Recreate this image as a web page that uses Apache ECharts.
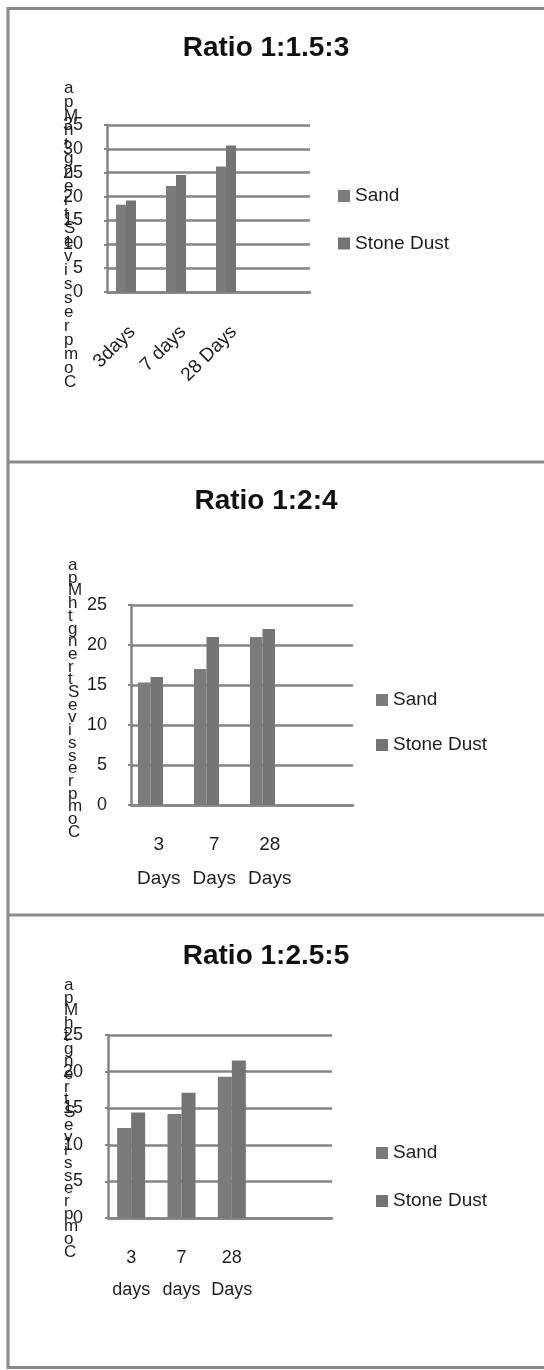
<!DOCTYPE html>
<html><head><meta charset="utf-8">
<script src="https://cdn.jsdelivr.net/npm/echarts@6/dist/echarts.min.js"></script>
<style>html,body{margin:0;padding:0;background:#fff}#c{width:544px;height:1370px}</style>
</head><body><div id="c"></div>
<script>
// ---- data ----
const titles = ['Ratio 1:1.5:3', 'Ratio 1:2:4', 'Ratio 1:2.5:5'];
const seriesNames = ['Sand', 'Stone Dust'];
const axisTitle = 'Compressive Strength Mpa';
const categories1 = ['3days', '7 days', '28 Days'];
const categories2 = ['3\nDays', '7\nDays', '28\nDays'];
const categories3 = ['3\ndays', '7\ndays', '28\nDays'];
const sand1 = [18.3, 22.2, 26.3];
const stoneDust1 = [19.2, 24.5, 30.7];
const sand2 = [15.3, 17.0, 21.0];
const stoneDust2 = [16.0, 21.0, 22.0];
const sand3 = [12.3, 14.2, 19.3];
const stoneDust3 = [14.4, 17.1, 21.5];
const yMax = [35, 25, 25];
const yInterval = 5;

// ---- layout / style ----
const FONT = "'Liberation Sans', Arial, sans-serif";
const LINE = '#858585';
const BAR = ['#7b7b7b', '#747474'];
const TXT = '#1e1e1e';
const charts = [
  { cats: categories1, vals: [sand1, stoneDust1], titleY: 48,
    frame: { left: 107, top: 125, width: 203, height: 167 }, frameCats: 4,
    bars: { left: 101, width: 150 }, barWidth: 10,
    labelsOn: 'frame', rotate: 45, labelMargin: 37, labelFont: 19, labelLH: 20, yLabelMargin: 24,
    legend: { left: 338, top: 186, gap: 27.5 }, letters: { x: 64, y: 81, lh: 14 } },
  { cats: categories2, vals: [sand2, stoneDust2], titleY: 501,
    frame: { left: 131, top: 605, width: 222, height: 200 }, frameCats: 4,
    bars: { left: 122.5, width: 168 }, barWidth: 12.5,
    labelsOn: 'frame', rotate: 0, labelMargin: 23, labelFont: 19, labelLH: 34, yLabelMargin: 24,
    legend: { left: 376, top: 690, gap: 25 }, letters: { x: 68, y: 559, lh: 12.7 } },
  { cats: categories3, vals: [sand3, stoneDust3], titleY: 956,
    frame: { left: 108, top: 1035, width: 224, height: 183 }, frameCats: 4,
    bars: { left: 106, width: 151 }, barWidth: 14,
    labelsOn: 'bars', rotate: 0, labelMargin: 24, labelFont: 18, labelLH: 32, yLabelMargin: 25,
    legend: { left: 376, top: 1143, gap: 28 }, letters: { x: 64, y: 979, lh: 12.7 } }
];

const grid = [], xAxis = [], yAxis = [], series = [], legend = [], graphic = [];
charts.forEach((c, i) => {
  const fa = 2 * i, ba = 2 * i + 1;
  grid.push({ left: c.frame.left, top: c.frame.top, width: c.frame.width, height: c.frame.height, containLabel: false });
  grid.push({ left: c.bars.left, top: c.frame.top, width: c.bars.width, height: c.frame.height, containLabel: false });
  const padded = c.cats.slice();
  while (padded.length < c.frameCats) padded.push('');
  const labelStyle = { show: true, interval: 0, rotate: c.rotate, margin: c.labelMargin,
    fontSize: c.labelFont, lineHeight: c.labelLH, fontFamily: FONT, color: TXT };
  xAxis.push({ type: 'category', gridIndex: fa, data: padded, boundaryGap: true,
    axisLine: { show: true, lineStyle: { color: LINE, width: 2.5 } }, axisTick: { show: false },
    axisLabel: c.labelsOn === 'frame' ? labelStyle : { show: false }, splitLine: { show: false } });
  xAxis.push({ type: 'category', gridIndex: ba, data: c.cats, boundaryGap: true,
    axisLine: { show: false }, axisTick: { show: false },
    axisLabel: c.labelsOn === 'bars' ? labelStyle : { show: false }, splitLine: { show: false } });
  yAxis.push({ type: 'value', gridIndex: fa, min: 0, max: yMax[i], interval: yInterval,
    axisLine: { show: true, lineStyle: { color: LINE, width: 2.5 } },
    axisTick: { show: true, length: 3, lineStyle: { color: LINE, width: 2 } },
    splitLine: { show: true, lineStyle: { color: LINE, width: 2.5 } },
    axisLabel: { margin: c.yLabelMargin, fontSize: 18, fontFamily: FONT, color: TXT } });
  yAxis.push({ type: 'value', gridIndex: ba, min: 0, max: yMax[i], interval: yInterval, show: false });
  seriesNames.forEach((n, k) => {
    series.push({ type: 'bar', name: n, xAxisIndex: ba, yAxisIndex: ba, data: c.vals[k],
      barWidth: c.barWidth, barGap: '0%', itemStyle: { color: BAR[k] }, silent: true });
  });
  legend.push({ data: seriesNames, orient: 'vertical', left: c.legend.left, top: c.legend.top,
    itemWidth: 12, itemHeight: 12, itemGap: c.legend.gap, itemTextGap: 7, icon: 'rect', padding: 0,
    textStyle: { fontSize: 19, lineHeight: 20, fontFamily: FONT, color: TXT } });
  graphic.push({ type: 'text', x: 266, y: c.titleY, style: { text: titles[i], align: 'center', verticalAlign: 'middle',
    font: "bold 28px " + FONT, fill: '#111' } });
  graphic.push({ type: 'text', x: c.letters.x, y: c.letters.y, style: {
    text: axisTitle.replace(/ /g, '').split('').reverse().join('\n'), align: 'left', verticalAlign: 'top',
    font: "17px " + FONT, lineHeight: c.letters.lh, fill: TXT } });
});
// panel borders
graphic.push({ type: 'rect', shape: { x: 8, y: 8.5, width: 600, height: 1359 }, style: { fill: 'none', stroke: '#8a8a8a', lineWidth: 3 } });
graphic.push({ type: 'line', shape: { x1: 8, y1: 462, x2: 544, y2: 462 }, style: { stroke: '#8a8a8a', lineWidth: 3 } });
graphic.push({ type: 'line', shape: { x1: 8, y1: 915, x2: 544, y2: 915 }, style: { stroke: '#8a8a8a', lineWidth: 3 } });

const chart = echarts.init(document.getElementById('c'), null, { renderer: 'canvas' });
chart.setOption({ animation: false, backgroundColor: '#fff', grid, xAxis, yAxis, series, legend, graphic });
</script></body></html>
